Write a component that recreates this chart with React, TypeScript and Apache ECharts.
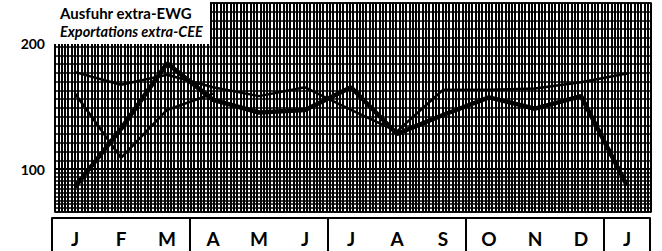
import React, { useEffect, useRef } from "react";
import * as echarts from "echarts";

const months = ["J", "F", "M", "A", "M", "J", "J", "A", "S", "O", "N", "D", "J"];
const yLabels = [100, 200];
const seriesThin1 = [177, 167, 175, 165, 158, 165, 147, 130, 163, 163, 164, 169, 176];
const seriesThick = [86, 132, 184, 155, 145, 147, 165, 128, 143, 157, 148, 158, 87];
const seriesThin2 = [160, 109, 147, 160, null, null, null, null, null, null, null, null, null];
const titleLine1 = "Ausfuhr extra-EWG";
const titleLine2 = "Exportations extra-CEE";

const FONT = "Lato, 'DejaVu Sans', sans-serif";

export default function App() {
  const ref = useRef<HTMLDivElement>(null);
  useEffect(() => {
    if (!ref.current) return;
    const chart = echarts.init(ref.current, undefined, { renderer: "svg" });
    const hatchX = (gridIndex: number) => ({
      type: "value",
      gridIndex,
      min: 0,
      max: 180,
      interval: 1,
      show: true,
      axisLine: { show: false },
      axisTick: { show: false },
      axisLabel: { show: false },
      splitLine: { show: true, lineStyle: { color: "#000", width: 2 } },
    });
    chart.setOption({
      animation: false,
      backgroundColor: "#fff",
      grid: [
        { left: 52, right: 12, top: 2, bottom: 39 },
        { left: 55, right: 11, top: 3, bottom: 82, show: true, borderColor: "#000", borderWidth: 1.5 },
        { left: 55, right: 11, top: 169, bottom: 39, show: true, borderColor: "#000", borderWidth: 1.5 },
      ],
      xAxis: [
        {
          type: "category",
          gridIndex: 0,
          data: months,
          boundaryGap: true,
          position: "bottom",
          axisLine: { show: false },
          axisTick: { show: false },
          splitLine: { show: false },
          axisLabel: {
            margin: 17,
            color: "#000",
            fontFamily: FONT,
            fontWeight: "bold",
            fontSize: 19,
          },
        },
        {
          type: "value",
          gridIndex: 0,
          min: 0,
          max: 13,
          interval: 3,
          position: "bottom",
          offset: 6,
          axisLine: { show: true, lineStyle: { color: "#000", width: 2 } },
          axisTick: { show: true, length: 34, lineStyle: { color: "#000", width: 2 } },
          axisLabel: { show: false },
          splitLine: { show: false },
        },
        hatchX(1),
        hatchX(2),
      ],
      yAxis: [
        {
          type: "value",
          gridIndex: 0,
          min: 66,
          max: 232.7,
          axisLine: { show: false },
          axisTick: { show: false },
          splitLine: { show: false },
          axisLabel: {
            customValues: yLabels,
            margin: 7,
            color: "#000",
            fontFamily: FONT,
            fontWeight: "bold",
            fontSize: 14,
          },
        },
        {
          type: "value",
          gridIndex: 1,
          min: 0,
          max: 19,
          interval: 1,
          axisLine: { show: false },
          axisTick: { show: false },
          axisLabel: { show: false },
          splitLine: { show: true, lineStyle: { color: "#000", width: 1.5 } },
        },
        {
          type: "value",
          gridIndex: 2,
          min: 0,
          max: 11,
          interval: 1,
          axisLine: { show: false },
          axisTick: { show: false },
          axisLabel: { show: false },
          splitLine: { show: true, lineStyle: { color: "#000", width: 1.5 } },
        },
      ],
      series: [
        {
          type: "line",
          xAxisIndex: 0,
          yAxisIndex: 0,
          data: seriesThin1,
          symbol: "none",
          lineStyle: { color: "#000", width: 2.5 },
          z: 5,
        },
        {
          type: "line",
          xAxisIndex: 0,
          yAxisIndex: 0,
          data: seriesThin2,
          symbol: "none",
          lineStyle: { color: "#000", width: 2.5 },
          z: 5,
        },
        {
          type: "line",
          xAxisIndex: 0,
          yAxisIndex: 0,
          data: seriesThick,
          symbol: "none",
          lineStyle: { color: "#000", width: 4.5 },
          z: 6,
        },
      ],
      graphic: [
        {
          type: "rect",
          z: 100,
          shape: { x: 52, y: 0, width: 158, height: 44 },
          style: { fill: "#fff" },
        },
        {
          type: "text",
          z: 101,
          x: 60,
          y: 13,
          style: {
            text: titleLine1,
            fill: "#000",
            font: `bold 15px ${FONT}`,
            textVerticalAlign: "middle",
          },
        },
        {
          type: "text",
          z: 101,
          x: 60,
          y: 31,
          style: {
            text: titleLine2,
            fill: "#000",
            font: `italic bold 14.5px ${FONT}`,
            textVerticalAlign: "middle",
          },
        },
      ],
    });
    return () => chart.dispose();
  }, []);
  return <div ref={ref} style={{ width: 662, height: 251, position: "absolute", left: 0, top: 0 }} />;
}
